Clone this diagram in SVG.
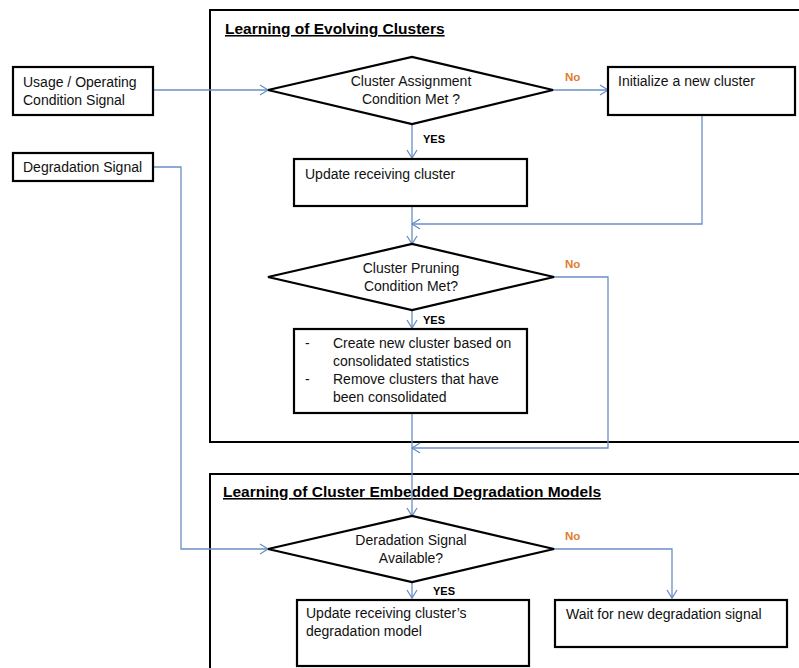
<svg xmlns="http://www.w3.org/2000/svg" width="799" height="668" viewBox="0 0 799 668">
<style>
.box{fill:#fff;stroke:#000;stroke-width:2.2}
.frame{fill:none;stroke:#000;stroke-width:2}
.t{font-family:"Liberation Sans",Arial,sans-serif;font-size:14px;fill:#111}
.c{text-anchor:middle}
.title{font-family:"Liberation Sans",Arial,sans-serif;font-size:15.5px;font-weight:bold;text-decoration:underline;fill:#000}
.yes{font-family:"Liberation Sans",Arial,sans-serif;font-size:11px;font-weight:bold;fill:#000}
.no{font-family:"Liberation Sans",Arial,sans-serif;font-size:11.5px;font-weight:bold;fill:#e07b2e}
.ln{fill:none;stroke:#6a8fc4;stroke-width:1.3}
</style>
<defs>
<marker id="ah" markerWidth="12" markerHeight="12" refX="10" refY="6" orient="auto" markerUnits="userSpaceOnUse">
<path d="M2,1 L10,6 L2,11" fill="none" stroke="#6a8fc4" stroke-width="1.3"/>
</marker>
</defs>
<rect width="799" height="668" fill="#fff"/>

<g id="frame1">
<rect class="frame" x="210" y="10" width="600" height="432"/>
<text class="title" x="225" y="34">Learning of Evolving Clusters</text>
</g>
<g id="frame2">
<rect class="frame" x="210" y="474" width="600" height="210"/>
<text class="title" x="223" y="497">Learning of Cluster Embedded Degradation Models</text>
</g>

<g id="connectors">
<line class="ln" x1="153" y1="90" x2="268" y2="90" marker-end="url(#ah)"/>
<line class="ln" x1="553" y1="90" x2="608" y2="90" marker-end="url(#ah)"/>
<line class="ln" x1="412" y1="124" x2="412" y2="158" marker-end="url(#ah)"/>
<line class="ln" x1="412" y1="206" x2="412" y2="244" marker-end="url(#ah)"/>
<polyline class="ln" points="702,115 702,224 412,224" marker-end="url(#ah)"/>
<line class="ln" x1="412" y1="310" x2="412" y2="328" marker-end="url(#ah)"/>
<polyline class="ln" points="554,277 608,277 608,448 412,448" marker-end="url(#ah)"/>
<line class="ln" x1="412" y1="413" x2="412" y2="516" marker-end="url(#ah)"/>
<polyline class="ln" points="153,167 181,167 181,549 268,549" marker-end="url(#ah)"/>
<polyline class="ln" points="554,549 672,549 672,598" marker-end="url(#ah)"/>
<line class="ln" x1="412" y1="582" x2="412" y2="598" marker-end="url(#ah)"/>
<text class="no" x="565" y="81">No</text>
<text class="yes" x="423" y="143">YES</text>
<text class="no" x="565" y="268">No</text>
<text class="yes" x="423" y="324">YES</text>
<text class="no" x="565" y="540">No</text>
<text class="yes" x="433" y="595">YES</text>
</g>

<g id="usage">
<rect class="box" x="13" y="67" width="140" height="48"/>
<text class="t" x="23" y="87">Usage / Operating</text>
<text class="t" x="23" y="105">Condition Signal</text>
</g>
<g id="degsignal">
<rect class="box" x="13" y="153" width="140" height="28"/>
<text class="t" x="23" y="172">Degradation Signal</text>
</g>

<g id="d1">
<polygon class="box" points="268,90 412,57 553,90 412,124"/>
<text class="t c" x="411" y="86">Cluster Assignment</text>
<text class="t c" x="411" y="104">Condition Met ?</text>
</g>
<g id="init">
<rect class="box" x="608" y="67" width="187" height="48"/>
<text class="t" x="618" y="86">Initialize a new cluster</text>
</g>
<g id="update">
<rect class="box" x="294" y="159" width="233" height="47"/>
<text class="t" x="305" y="179">Update receiving cluster</text>
</g>
<g id="d2">
<polygon class="box" points="268,277 412,244 554,277 412,310"/>
<text class="t c" x="411" y="273">Cluster Pruning</text>
<text class="t c" x="411" y="291">Condition Met?</text>
</g>
<g id="prune">
<rect class="box" x="294" y="329" width="233" height="84"/>
<text class="t" x="305" y="348">-</text>
<text class="t" x="333" y="348">Create new cluster based on</text>
<text class="t" x="333" y="366">consolidated statistics</text>
<text class="t" x="305" y="384">-</text>
<text class="t" x="333" y="384">Remove clusters that have</text>
<text class="t" x="333" y="402">been consolidated</text>
</g>
<g id="d3">
<polygon class="box" points="268,549 412,516 554,549 412,582"/>
<text class="t c" x="411" y="545">Deradation Signal</text>
<text class="t c" x="411" y="563">Available?</text>
</g>
<g id="updmodel">
<rect class="box" x="297" y="600" width="232" height="66"/>
<text class="t" x="306" y="618">Update receiving cluster’s</text>
<text class="t" x="306" y="636">degradation model</text>
</g>
<g id="wait">
<rect class="box" x="555" y="600" width="232" height="47"/>
<text class="t" x="566" y="619">Wait for new degradation signal</text>
</g>
</svg>
